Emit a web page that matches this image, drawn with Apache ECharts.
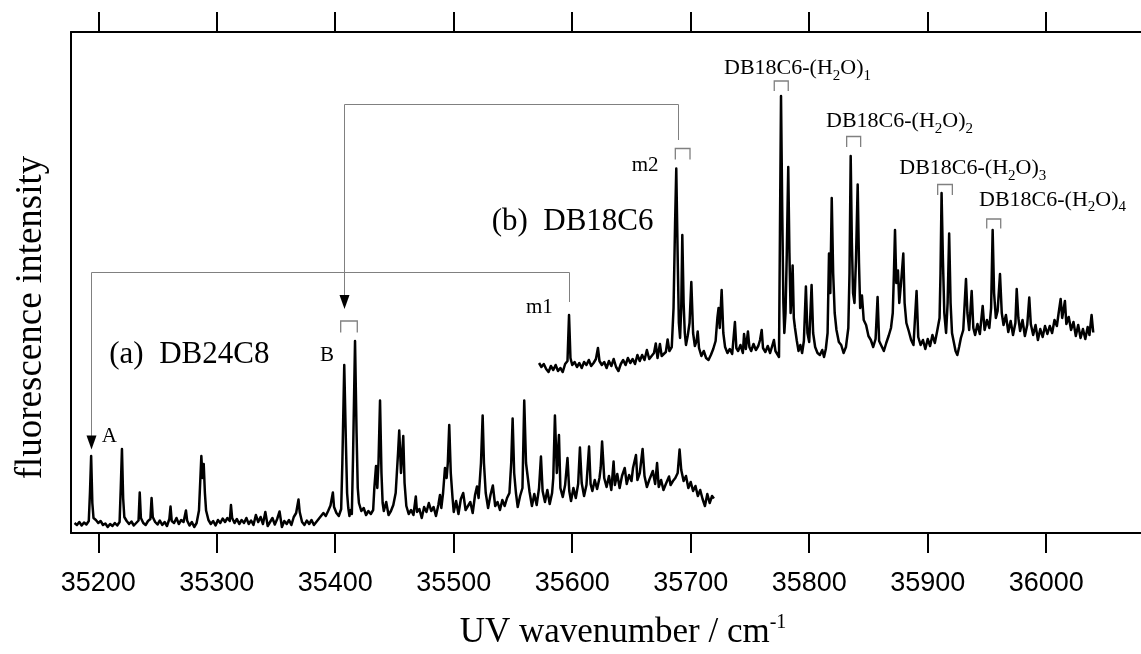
<!DOCTYPE html>
<html>
<head>
<meta charset="utf-8">
<script src="https://cdn.jsdelivr.net/npm/echarts@6/dist/echarts.min.js"></script>
<style>
  html, body { margin: 0; padding: 0; background: #fff; }
  #chart { width: 1141px; height: 654px; }
</style>
</head>
<body>
<div id="chart"></div>
<script>
// wavenumber (cm-1), intensity (arb. units, 0..100)
const specA = [
  [35180,2.0],[35182,1.6],[35184,2.2],[35186,1.5],[35188,2.1],[35190,1.7],[35192,2.4],[35193,8],[35194,15.4],[35195,6],[35196,3.0],
  [35198,2.6],[35200,2.0],[35202,2.4],[35204,1.6],[35206,1.9],[35208,1.2],[35210,1.8],[35212,1.4],[35214,2.0],[35216,1.5],[35218,2.2],
  [35219,9],[35220,16.8],[35221,7],[35222,3.2],[35224,2.4],[35226,1.8],[35228,2.3],[35230,1.5],[35232,2.0],[35234,2.5],[35235,8.1],
  [35236,3.0],[35238,2.0],[35240,1.6],[35242,2.4],[35244,2.8],[35245,7.0],[35246,3.2],[35248,2.2],[35250,1.7],[35252,2.5],[35254,1.6],
  [35256,2.2],[35258,1.4],[35260,2.8],[35261,5.3],[35262,2.4],[35264,2.0],[35266,3.0],[35268,1.8],[35270,2.6],[35272,2.2],[35274,4.5],
  [35275,2.5],[35277,1.5],[35279,2.2],[35281,1.2],[35283,2.0],[35285,4.5],[35287,15.4],[35288,11],[35289,13.8],[35290,8],[35291,4.5],
  [35293,2.6],[35295,1.8],[35297,2.4],[35299,1.5],[35301,2.6],[35303,2.0],[35305,2.9],[35307,2.2],[35309,3.0],[35311,2.4],[35312,5.6],
  [35313,3.0],[35315,2.0],[35317,2.8],[35319,1.8],[35321,2.6],[35323,2.0],[35325,3.0],[35327,1.8],[35329,2.5],[35331,1.6],[35333,3.6],
  [35335,2.2],[35337,3.2],[35339,1.8],[35341,4.2],[35343,1.4],[35345,2.2],[35347,3.0],[35349,1.7],[35351,2.8],[35353,4.3],[35355,1.2],
  [35357,2.4],[35359,1.8],[35361,2.6],[35363,1.6],[35365,3.2],[35367,4.0],[35369,6.7],[35370,4.2],[35372,2.2],[35374,1.6],[35376,2.5],
  [35378,1.8],[35380,2.6],[35382,1.6],[35384,2.2],[35386,2.8],[35388,3.4],[35390,4.0],[35392,3.4],[35394,4.4],[35396,5.5],[35398,8.1],
  [35399,5.2],[35401,4.0],[35403,3.4],[35405,4.8],[35406,14],[35407.6,33.6],[35409,18],[35410,8],[35411,5.0],[35412,3.4],[35413,4.6],
  [35414,3.8],[35415,15],[35416.7,38.4],[35418,20],[35419,9],[35420,6.0],[35422,4.4],[35424,5.0],[35426,3.6],[35428,4.4],[35430,3.8],
  [35432,4.6],[35433,9],[35434.4,13.4],[35435.5,9],[35436.5,14],[35437.8,26.5],[35439,12],[35440,6],[35441,4.4],[35443,6.2],[35445,3.6],
  [35447,4.4],[35449,5.6],[35451,8],[35452,12],[35453,16],[35454,20.5],[35455.5,12],[35457.4,19.4],[35458.5,10],[35460,5.4],[35462,3.8],
  [35464,4.6],[35466,3.6],[35468,7.3],[35469,4.2],[35471,4.8],[35473,3.0],[35475,5.2],[35477,4.2],[35479,6.0],[35481,4.4],[35483,5.2],
  [35485,3.4],[35487,5.6],[35488.4,7.6],[35489.5,5.0],[35491,8],[35492.6,13.0],[35494,11],[35495,14],[35496.2,21.6],[35497.5,12],
  [35499,7],[35500,4.2],[35502,6.4],[35504,3.8],[35506,6.8],[35508,8.0],[35510,4.6],[35512,5.4],[35514,6.2],[35516,4.0],[35518,7.6],
  [35519.6,9.3],[35521,7],[35523,14],[35524.4,23.5],[35525.5,14],[35527,8],[35529,5.0],[35531,7.6],[35533,9.5],[35535,5.4],[35537,6.2],
  [35539,4.6],[35541,6.6],[35543,5.4],[35545,7.0],[35547,8],[35548.5,14],[35549.7,22.9],[35551,12],[35552.5,8],[35554,5.2],[35556,7.4],
  [35558,9],[35559.5,26.5],[35561,14],[35562.6,14.0],[35564,8.2],[35566,5.4],[35568,7.8],[35570,5.6],[35572,9],[35573.6,15.3],[35575,8.4],
  [35577,6.2],[35579,8.6],[35581,5.8],[35583,8],[35584,11],[35585.4,23.5],[35587,12],[35588.8,19.6],[35590,9],[35592,7.2],[35594,9.6],
  [35596,15.0],[35597.5,8.4],[35599,6.4],[35601,9.0],[35603,7.0],[35605,9.8],[35606.5,17.1],[35608,10],[35610,7.4],[35612,9.6],
  [35614.2,17.3],[35615.5,9.8],[35617,8.4],[35619,10.6],[35621,8.8],[35623,11],[35624,13],[35625.2,18.3],[35627,11],[35629,9.2],
  [35631,11.4],[35633,8.6],[35634.9,14.3],[35636,9.6],[35638,11.8],[35640,9.0],[35642,11.4],[35644.3,13.0],[35646,9.8],[35648,11.6],
  [35650,10.4],[35651.3,13],[35653.8,15.6],[35655,10.6],[35657,12],[35659.4,16.8],[35661,11.4],[35663,9.2],[35665,10.6],[35668,12.4],
  [35670,9.8],[35671.6,14.0],[35673,9.2],[35675,10.6],[35677,8.6],[35679,9.8],[35681.7,11.3],[35683,9.6],[35685,10.4],[35687,11],
  [35689,12],[35690.6,16.7],[35692,12.6],[35694,10.4],[35696,11.4],[35698,9.0],[35700,10.2],[35702,8.4],[35704,9.4],[35706,7.4],
  [35708,8.6],[35710,6.8],[35712,5.4],[35714,7.8],[35716,6.0],[35718,7.4],[35719.6,6.9]
];

const specB = [
  [35572,34.0],[35574,33.2],[35576,33.8],[35578,32.8],[35580,32.2],[35582,33.4],[35584,32.6],[35586,33.6],[35588,32.4],[35590,33.0],
  [35592,32.2],[35594,33.8],[35596,34.4],[35597.3,43.6],[35598.5,35.0],[35600,33.6],[35602,34.2],[35604,33.2],[35606,34.0],[35608,33.0],
  [35610,34.2],[35612,33.6],[35614,34.6],[35616,33.4],[35618,34.0],[35620,34.8],[35621.7,37.0],[35623,34.4],[35625,33.6],[35627,34.2],
  [35629,33.0],[35631,34.4],[35633,33.4],[35635,34.8],[35637,33.2],[35639,32.4],[35641,33.8],[35643,34.6],[35645,33.6],[35647,35.0],
  [35649,34.0],[35651,34.8],[35653,33.8],[35655,35.6],[35657,34.4],[35659,35.6],[35661,34.6],[35663,36.6],[35665,34.8],[35667,35.4],
  [35669,36.0],[35670.5,37.9],[35672,35.0],[35674,37.8],[35675.5,35.4],[35677,35.8],[35679,36.2],[35680.5,38.7],[35682,36.4],[35684,37.2],
  [35685.5,45],[35686.8,62],[35687.8,72.9],[35689,55],[35690,42],[35691,39],[35692,45],[35692.9,59.6],[35694,46],[35695,40],[35696,37.6],
  [35697.5,39.5],[35699,42],[35700.5,50.2],[35702,40],[35703.5,37.4],[35705,38.5],[35705.9,40.3],[35707,37.0],[35709,35.4],[35711,36.4],
  [35713,35.0],[35715,34.6],[35717,35.6],[35719,36.8],[35721,38.4],[35722.5,43],[35723.5,45.0],[35724.5,41],[35726.1,48.6],[35727.5,40],
  [35729,37.2],[35731,36.0],[35733,36.8],[35735,35.8],[35737.3,42.2],[35738.5,37.0],[35740,36.4],[35742,37.6],[35744,36.0],[35745,39.8],
  [35746.5,36.8],[35748.3,40.3],[35749.5,37.2],[35751,36.4],[35753,37.8],[35755,36.6],[35757,37.4],[35758.5,38.6],[35759.9,40.6],
  [35761,37.0],[35763,36.2],[35765,37.4],[35767,36.0],[35769,37.6],[35770.2,38.6],[35771.5,36.4],[35773,35.8],[35774.5,35.2],[35775.3,60],
  [35776.2,87.4],[35777.2,65],[35778.2,46],[35779,40],[35780,44],[35781,55],[35782.3,73.2],[35783.3,56],[35784.3,44],[35785,47],
  [35786,53.5],[35787,43],[35788,41],[35789.5,38.5],[35791,36.4],[35792.5,37.6],[35794,36.0],[35795.5,38.4],[35797.2,49.3],[35798.5,40],
  [35800,38.2],[35802,49.6],[35803.3,40],[35805,37.2],[35807,36.0],[35809,35.6],[35811,36.6],[35812.5,35.2],[35814,36.8],[35815.5,40],
  [35816.7,55.9],[35817.8,48],[35819,67.0],[35820.2,52],[35821.5,44],[35823,40.6],[35825,38.2],[35827,37.6],[35829,36.0],[35831,37.2],
  [35833,41],[35834,52],[35835,75.4],[35836,58],[35837,48],[35838.2,46],[35839.5,55],[35840.9,69.7],[35842,54],[35843,45],[35844.5,47.5],
  [35846,42.6],[35848,41.6],[35850,39.4],[35852,38.6],[35854,37.2],[35856,38.8],[35857.7,47.2],[35859,38.4],[35861,37.4],[35863,36.4],
  [35865,38.0],[35867,39.4],[35869,41],[35870.5,44],[35871.5,52],[35872.4,60.6],[35873.5,50],[35874.9,52.5],[35876,46],[35877.5,50],
  [35879.4,55.9],[35880.5,46],[35882,42.0],[35884,40.4],[35886,38.6],[35888,37.6],[35890.6,48.4],[35892,39.2],[35894,37.6],[35896,38.6],
  [35898,36.8],[35900,38.8],[35902,37.4],[35904,39.6],[35906,38.0],[35908,40.4],[35910,43],[35910.8,52],[35911.7,68.0],[35912.8,55],
  [35914,44],[35915.5,40],[35916.8,46],[35918.1,59.9],[35919.3,46],[35920.5,40],[35922,38.2],[35923.5,36.4],[35925,35.6],[35926.5,37.2],
  [35928,39],[35930,40.6],[35932.3,50.8],[35933.5,44],[35935,40.6],[35937.1,48.4],[35938.5,41],[35940,39.6],[35942,41.8],[35944,39.8],
  [35946.4,45.4],[35948,40.6],[35950,42.6],[35952,41.0],[35953.5,45],[35954.8,60.6],[35956,48],[35957.5,43],[35959,44.4],[35961,51.8],
  [35962.5,44],[35964,41.6],[35966,43.6],[35968,40.2],[35970,42.4],[35972,39.6],[35974,42.0],[35975.1,48.8],[35976.5,43],[35978,40.4],
  [35980,42.6],[35982,39.4],[35984,41.6],[35985.7,47.1],[35987,41.8],[35989,39.6],[35991,41.6],[35993,38.6],[35995,40.8],[35997,39.2],
  [35999,41.4],[36001,39.8],[36003,41.4],[36005,40.0],[36007,42.6],[36009,41.4],[36010.5,44],[36012.2,46.8],[36013.5,43],[36015.8,46.4],
  [36017,41.8],[36019,43.2],[36021,40.6],[36023,42.2],[36025,39.4],[36027,41.6],[36029,39.0],[36031,40.8],[36033,38.8],[36035,41.2],
  [36036.5,39.6],[36038.3,43.6],[36039.7,40.1]
];

const tickValues = [35200, 35300, 35400, 35500, 35600, 35700, 35800, 35900, 36000];

// [x arrow, x end, y line, y arrow tip, y end]
const connectors = [
  [35193.9, 35597.5, 52.2, 16.7, 46.2],
  [35407.4, 35689.0, 85.8, 44.8, 78.6]
];

// [x left, x right, y top, y leg end]
const brackets = [
  [35404.6, 35418.6, 42.4, 40.1],
  [35687.0, 35699.4, 76.9, 74.7],
  [35770.5, 35782.3, 90.4, 88.4],
  [35831.6, 35843.4, 79.3, 77.2],
  [35908.4, 35920.8, 69.7, 67.6],
  [35949.8, 35961.6, 62.8, 60.9]
];

// [x left, y middle, text, font size]
const plainLabels = [
  [35209.3, 35.6, '(a)  DB24C8', 31],
  [35532.0, 62.2, '(b)  DB18C6', 31],
  [35202.9, 19.4, 'A', 21],
  [35387.1, 35.6, 'B', 21],
  [35561.0, 45.2, 'm1', 21],
  [35650.2, 73.5, 'm2', 21]
];

// [x left, y middle, number of waters]
const clusterLabels = [
  [35728.1, 92.9, 1],
  [35814.2, 82.3, 2],
  [35876.0, 72.9, 3],
  [35943.3, 66.6, 4]
];

const serif = '"Liberation Serif", "Times New Roman", serif';
const gray = '#808080';

const chart = echarts.init(document.getElementById('chart'));

const clusterRich = {
  m: { fontFamily: serif, fontSize: 22, color: '#000', lineHeight: 30 },
  s: { fontFamily: serif, fontSize: 15, color: '#000', verticalAlign: 'bottom' }
};

const option = {
  animation: false,
  backgroundColor: '#fff',
  grid: { left: 71, right: 0, top: 32, bottom: 121 },
  xAxis: [
    {
      type: 'value',
      position: 'bottom',
      min: 35177,
      max: 36080,
      axisLine: { show: true, lineStyle: { color: '#000', width: 2 } },
      axisTick: { show: true, inside: false, length: 20, lineStyle: { color: '#000', width: 2 }, customValues: tickValues },
      axisLabel: {
        show: true, margin: 37, color: '#000', fontSize: 27,
        fontFamily: '"Liberation Sans", Arial, sans-serif',
        customValues: tickValues,
        formatter: v => String(v)
      },
      splitLine: { show: false }
    },
    {
      type: 'value',
      position: 'top',
      min: 35177,
      max: 36080,
      axisLine: { show: true, lineStyle: { color: '#000', width: 2 } },
      axisTick: { show: true, inside: false, length: 20, lineStyle: { color: '#000', width: 2 }, customValues: tickValues },
      axisLabel: { show: false },
      splitLine: { show: false }
    }
  ],
  yAxis: {
    type: 'value',
    min: 0,
    max: 100.2,
    axisLine: { show: true, lineStyle: { color: '#000', width: 2 } },
    axisTick: { show: false },
    axisLabel: { show: false },
    splitLine: { show: false }
  },
  graphic: [
    {
      type: 'text',
      x: 31,
      y: 317.5,
      rotation: Math.PI / 2,
      style: {
        text: 'fluorescence intensity',
        font: '37px ' + serif,
        fill: '#000',
        textAlign: 'center',
        textVerticalAlign: 'middle'
      }
    },
    {
      type: 'text',
      x: 623,
      y: 633,
      style: {
        text: '{m|UV wavenumber / cm}{s|-1}',
        fill: '#000',
        textAlign: 'center',
        textVerticalAlign: 'middle',
        rich: {
          m: { fontFamily: serif, fontSize: 35, color: '#000', lineHeight: 40 },
          s: { fontFamily: serif, fontSize: 20, color: '#000', verticalAlign: 'top' }
        }
      }
    }
  ],
  series: [
    {
      name: 'DB24C8',
      type: 'line',
      data: specA,
      showSymbol: false,
      lineStyle: { color: '#000', width: 2.5, join: 'round' },
      z: 3
    },
    {
      name: 'DB18C6',
      type: 'line',
      data: specB,
      showSymbol: false,
      lineStyle: { color: '#000', width: 2.5, join: 'round' },
      z: 3
    },
    {
      type: 'custom',
      data: connectors,
      z: 2,
      renderItem: function (params, api) {
        const corner = api.coord([api.value(0), api.value(2)]);
        const far = api.coord([api.value(1), api.value(2)]);
        const tip = api.coord([api.value(0), api.value(3)]);
        const end = api.coord([api.value(1), api.value(4)]);
        const x0 = Math.round(corner[0]) + 0.5;
        const x1 = Math.round(far[0]) + 0.5;
        const yl = Math.round(corner[1]) + 0.5;
        return {
          type: 'group',
          children: [
            {
              type: 'polyline',
              shape: { points: [[x0, tip[1] - 13], [x0, yl], [x1, yl], [x1, end[1]]] },
              style: { stroke: gray, lineWidth: 1, fill: null }
            },
            {
              type: 'polygon',
              shape: { points: [[x0, tip[1]], [x0 - 5, tip[1] - 14], [x0 + 5, tip[1] - 14]] },
              style: { fill: '#000' }
            }
          ]
        };
      }
    },
    {
      type: 'custom',
      data: brackets,
      z: 2,
      renderItem: function (params, api) {
        const a = api.coord([api.value(0), api.value(2)]);
        const b = api.coord([api.value(1), api.value(3)]);
        return {
          type: 'polyline',
          shape: { points: [[a[0], b[1]], [a[0], a[1]], [b[0], a[1]], [b[0], b[1]]] },
          style: { stroke: gray, lineWidth: 1.3, fill: null }
        };
      }
    },
    {
      type: 'custom',
      data: plainLabels,
      z: 4,
      renderItem: function (params, api) {
        const p = api.coord([api.value(0), api.value(1)]);
        const item = plainLabels[params.dataIndex];
        return {
          type: 'text',
          x: p[0],
          y: p[1],
          style: {
            text: item[2],
            font: item[3] + 'px ' + serif,
            fill: '#000',
            textAlign: 'left',
            textVerticalAlign: 'middle'
          }
        };
      }
    },
    {
      type: 'custom',
      data: clusterLabels,
      z: 4,
      renderItem: function (params, api) {
        const p = api.coord([api.value(0), api.value(1)]);
        const n = api.value(2);
        return {
          type: 'text',
          x: p[0],
          y: p[1],
          style: {
            text: '{m|DB18C6-(H}{s|2}{m|O)}{s|' + n + '}',
            fill: '#000',
            textAlign: 'left',
            textVerticalAlign: 'middle',
            rich: clusterRich
          }
        };
      }
    }
  ]
};

chart.setOption(option);
</script>
</body>
</html>
